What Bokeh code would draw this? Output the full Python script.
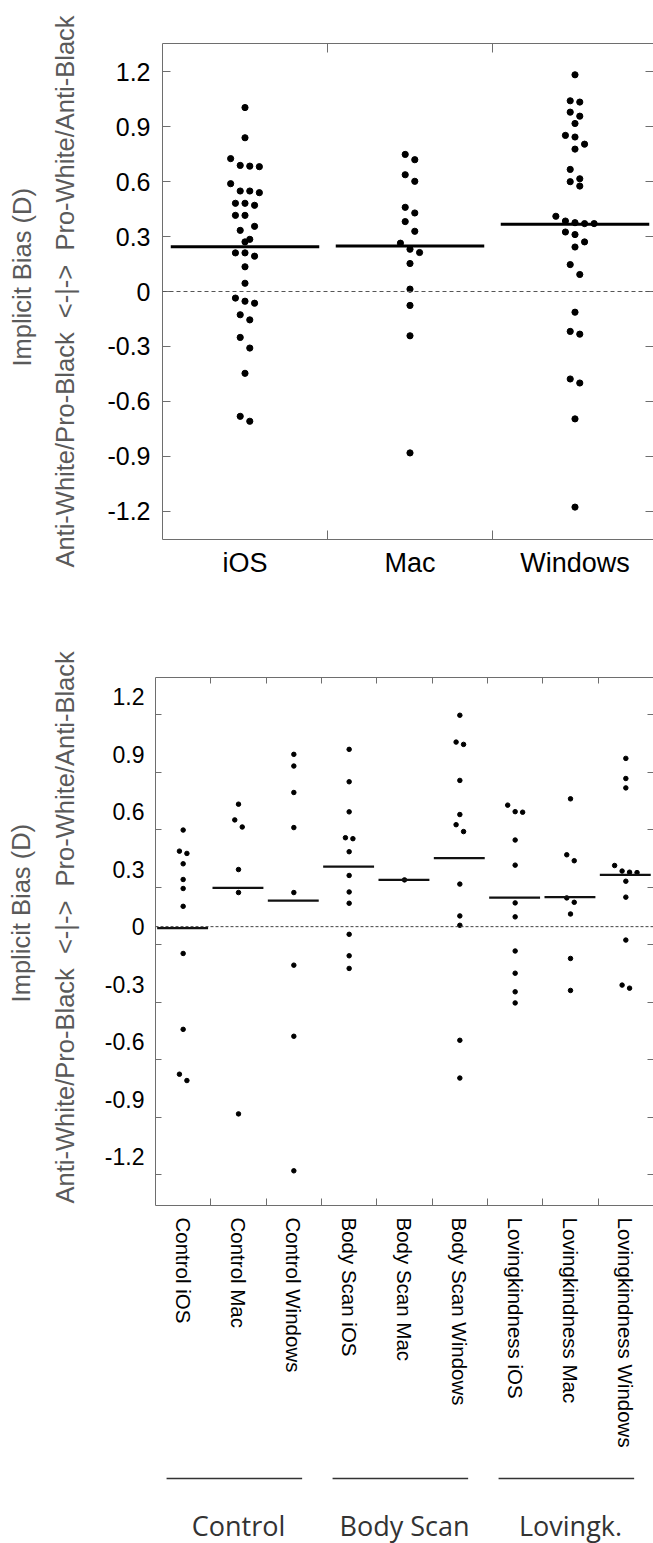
import numpy as np
from bokeh.plotting import figure
from bokeh.models import Range1d, LinearAxis, FixedTicker, Span
from bokeh.embed import file_html
from bokeh.resources import INLINE
from bokeh.core.properties import value

# ------------------------------------------------------------------ data
# Top panel: implicit bias (D) by operating system
os_categories = ["iOS", "Mac", "Windows"]
ios_d = [1.005, 0.84, 0.726, 0.689, 0.685, 0.682, 0.589, 0.549, 0.549, 0.540,
         0.482, 0.482, 0.471, 0.416, 0.416, 0.356, 0.334, 0.285, 0.271, 0.211,
         0.211, 0.193, 0.135, 0.045, -0.036, -0.053, -0.064, -0.127, -0.155,
         -0.251, -0.309, -0.447, -0.682, -0.709]
mac_d = [0.749, 0.72, 0.638, 0.602, 0.46, 0.429, 0.382, 0.329, 0.264, 0.231,
         0.213, 0.153, 0.013, -0.076, -0.242, -0.882]
windows_d = [1.184, 1.042, 1.035, 0.98, 0.958, 0.918, 0.853, 0.844, 0.805, 0.778,
             0.667, 0.616, 0.60, 0.576, 0.411, 0.385, 0.376, 0.371, 0.371, 0.325,
             0.311, 0.271, 0.243, 0.147, 0.093, -0.113, -0.218, -0.233, -0.478,
             -0.50, -0.696, -1.178]
top_values = [ios_d, mac_d, windows_d]

# Bottom panel: implicit bias (D) by condition x operating system
cond_categories = ["Control iOS", "Control Mac", "Control Windows",
                   "Body Scan iOS", "Body Scan Mac", "Body Scan Windows",
                   "Lovingkindness iOS", "Lovingkindness Mac", "Lovingkindness Windows"]
control_ios = [0.504, 0.394, 0.382, 0.328, 0.246, 0.199, 0.106, -0.14, -0.536, -0.77, -0.803]
control_mac = [0.639, 0.557, 0.52, 0.298, 0.178, -0.977]
control_windows = [0.899, 0.838, 0.70, 0.517, 0.178, -0.201, -0.572, -1.274]
bodyscan_ios = [0.925, 0.756, 0.599, 0.464, 0.459, 0.391, 0.267, 0.181, 0.122, -0.04, -0.152, -0.218]
bodyscan_mac = [0.244]
bodyscan_windows = [1.103, 0.963, 0.951, 0.763, 0.585, 0.532, 0.496, 0.222, 0.056, 0.007, -0.593, -0.79]
lk_ios = [0.634, 0.60, 0.597, 0.452, 0.321, 0.124, 0.051, -0.127, -0.243, -0.34, -0.398]
lk_mac = [0.667, 0.375, 0.344, 0.15, 0.127, 0.066, -0.166, -0.333]
lk_windows = [0.878, 0.773, 0.724, 0.319, 0.29, 0.284, 0.282, 0.237, 0.154, -0.07, -0.305, -0.321]
bottom_values = [control_ios, control_mac, control_windows,
                 bodyscan_ios, bodyscan_mac, bodyscan_windows,
                 lk_ios, lk_mac, lk_windows]

groups = ["Control", "Body Scan", "Lovingk."]
group_size = 3

y_tick_values = [1.2, 0.9, 0.6, 0.3, 0.0, -0.3, -0.6, -0.9, -1.2]
y_tick_labels = ["1.2", "0.9", "0.6", "0.3", "0", "-0.3", "-0.6", "-0.9", "-1.2"]

NB = "\u00a0"
y_title_outer = "Implicit Bias (D)"
y_title_inner = "Anti-White/Pro-Black" + NB * 2 + "<-|->" + NB * 2 + "Pro-White/Anti-Black"

# ------------------------------------------------------------------ helpers
FONT = "Liberation Sans"
AXIS_GREY = "#6e6e6e"
TITLE_GREY = "#5a5a5a"
W = 653


def swarm(vals, bin_w):
    """Deterministic spread: values within bin_w of each other share a row."""
    order = sorted(range(len(vals)), key=lambda i: -vals[i])
    offs = [0.0] * len(vals)
    grp = []

    def flush(g):
        k = len(g)
        for j, i in enumerate(g):
            offs[i] = j - (k - 1) / 2.0

    for i in order:
        if grp and vals[grp[0]] - vals[i] > bin_w:
            flush(grp)
            grp = []
        grp.append(i)
    if grp:
        flush(grp)
    return offs


def base_axis(ax):
    ax.axis_line_color = AXIS_GREY
    ax.axis_line_width = 1
    ax.major_tick_line_color = AXIS_GREY
    ax.minor_tick_line_color = AXIS_GREY
    ax.major_tick_out = 0
    ax.minor_tick_out = 0
    ax.major_tick_in = 0
    ax.minor_tick_in = 0


def hide_labels(ax, ticks):
    ax.major_label_overrides = {t: "" for t in ticks}
    ax.major_label_standoff = 0


def two_line_title(ax, pad_outer, pad_inner, standoff):
    ax.axis_label = NB * pad_outer + y_title_outer + "\n" + NB * pad_inner + y_title_inner
    ax.axis_label_text_font = FONT
    ax.axis_label_text_font_size = "25.5px"
    ax.axis_label_text_font_style = "normal"
    ax.axis_label_text_color = TITLE_GREY
    ax.axis_label_text_line_height = 1.55
    ax.axis_label_standoff = standoff


# ------------------------------------------------------------------ top panel
LEFT1 = 162
CAT_W1 = 165.0
n1 = len(os_categories)
centers1 = [i + 0.5 for i in range(n1)]
bounds1 = [float(i) for i in range(1, n1 + 1)]

p1 = figure(width=W, height=620,
            x_range=Range1d(0, (W - LEFT1) / CAT_W1),
            y_range=Range1d(-1.355, 1.355),
            output_backend="svg", toolbar_location=None,
            min_border_left=LEFT1, min_border_right=0,
            min_border_top=43, min_border_bottom=81)
p1.grid.visible = False
p1.outline_line_color = None

xt1 = FixedTicker(ticks=centers1, minor_ticks=bounds1)
yt1 = FixedTicker(ticks=y_tick_values)

bx = p1.xaxis[0]
base_axis(bx)
bx.ticker = xt1
bx.minor_tick_in = 9
bx.major_label_overrides = dict(zip(centers1, os_categories))
bx.major_label_text_font = FONT
bx.major_label_text_font_size = "27px"
bx.major_label_text_color = "black"
bx.major_label_standoff = 8

ly = p1.yaxis[0]
base_axis(ly)
ly.ticker = yt1
ly.major_tick_in = 8
ly.major_label_overrides = dict(zip(y_tick_values, y_tick_labels))
ly.major_label_text_font = FONT
ly.major_label_text_font_size = "25px"
ly.major_label_text_color = "black"
ly.major_label_standoff = 12
two_line_title(ly, 4, 0, 25)

ta = LinearAxis(ticker=xt1)
base_axis(ta)
ta.minor_tick_in = 9
hide_labels(ta, centers1)
p1.add_layout(ta, "above")

ra = LinearAxis(ticker=yt1)
base_axis(ra)
ra.major_tick_in = 8
ra.axis_line_color = None
hide_labels(ra, y_tick_values)
p1.add_layout(ra, "right")

p1.add_layout(Span(location=0, dimension="width", line_color="#555555",
                   line_width=1, line_dash="4 3"))

xs, ys = [], []
for i, vals in enumerate(top_values):
    offs = swarm(vals, 0.06)
    xs += [centers1[i] + o * 0.058 for o in offs]
    ys += vals
p1.scatter(xs, ys, size=6.2, color="black", line_color="black")

means1 = [float(np.mean(v)) for v in top_values]
p1.segment(x0=[c - 0.45 for c in centers1], x1=[c + 0.45 for c in centers1],
           y0=means1, y1=means1, line_color="black", line_width=3)

# ------------------------------------------------------------------ bottom panel
LEFT2 = 155
H2 = 840
n2 = len(cond_categories)
centers2 = [i + 0.5 for i in range(n2)]
bounds2 = [float(i) for i in range(1, n2 + 1)]

p2 = figure(width=W, height=H2,
            x_range=Range1d(0, n2),
            y_range=Range1d(-1.455, 1.30),
            output_backend="svg", toolbar_location=None,
            min_border_left=LEFT2, min_border_right=0,
            min_border_top=57, min_border_bottom=255)
p2.grid.visible = False
p2.outline_line_color = None

xt2 = FixedTicker(ticks=centers2, minor_ticks=bounds2)
yt2 = FixedTicker(ticks=y_tick_values, minor_ticks=[v - 0.095 for v in y_tick_values])

bx2 = p2.xaxis[0]
base_axis(bx2)
bx2.ticker = xt2
bx2.minor_tick_in = 7
bx2.major_label_overrides = dict(zip(centers2, cond_categories))
bx2.major_label_orientation = "vertical"
bx2.major_label_text_font = FONT
bx2.major_label_text_font_size = "20.5px"
bx2.major_label_text_color = "black"
bx2.major_label_standoff = 12

ly2 = p2.yaxis[0]
base_axis(ly2)
ly2.ticker = yt2
ly2.minor_tick_in = 6
ly2.major_label_overrides = dict(zip(y_tick_values, y_tick_labels))
ly2.major_label_text_font = FONT
ly2.major_label_text_font_size = "23px"
ly2.major_label_text_color = "black"
ly2.major_label_standoff = 11
two_line_title(ly2, 8, 4, 23)

ta2 = LinearAxis(ticker=xt2)
base_axis(ta2)
ta2.minor_tick_in = 6
hide_labels(ta2, centers2)
p2.add_layout(ta2, "above")

ra2 = LinearAxis(ticker=yt2)
base_axis(ra2)
ra2.minor_tick_in = 6
ra2.axis_line_color = None
hide_labels(ra2, y_tick_values)
p2.add_layout(ra2, "right")

p2.add_layout(Span(location=0, dimension="width", line_color="#444444",
                   line_width=1, line_dash="3 2"))

xs2, ys2 = [], []
for i, vals in enumerate(bottom_values):
    offs = swarm(vals, 0.04)
    xs2 += [centers2[i] + o * 0.135 for o in offs]
    ys2 += vals
p2.scatter(xs2, ys2, size=4.5, color="black", line_color="black")

means2 = [float(np.mean(v)) for v in bottom_values]
p2.segment(x0=[c - 0.47 for c in centers2], x1=[c + 0.45 for c in centers2],
           y0=means2, y1=means2, line_color="#111111", line_width=2.2)

# ------------------------------------------------------------------ group brackets
p3 = figure(width=W, height=83,
            x_range=Range1d(0, n2), y_range=Range1d(0, 83),
            output_backend="svg", toolbar_location=None,
            min_border_left=LEFT2, min_border_right=0,
            min_border_top=0, min_border_bottom=0,
            x_axis_location=None, y_axis_location=None)
p3.grid.visible = False
p3.outline_line_color = None

g_start = [g * group_size for g in range(len(groups))]
p3.segment(x0=[s + 0.2 for s in g_start], x1=[s + 2.65 for s in g_start],
           y0=[65] * len(groups), y1=[65] * len(groups),
           line_color="#333333", line_width=1.5)
p3.text(x=[s + 1.5 for s in g_start], y=[18] * len(groups), text=groups,
        text_align="center", text_baseline="middle",
        text_font=value("Open Sans"), text_font_size="27px", text_color="#333333")

open("out.html", "w").write(file_html([p1, p2, p3], INLINE))
